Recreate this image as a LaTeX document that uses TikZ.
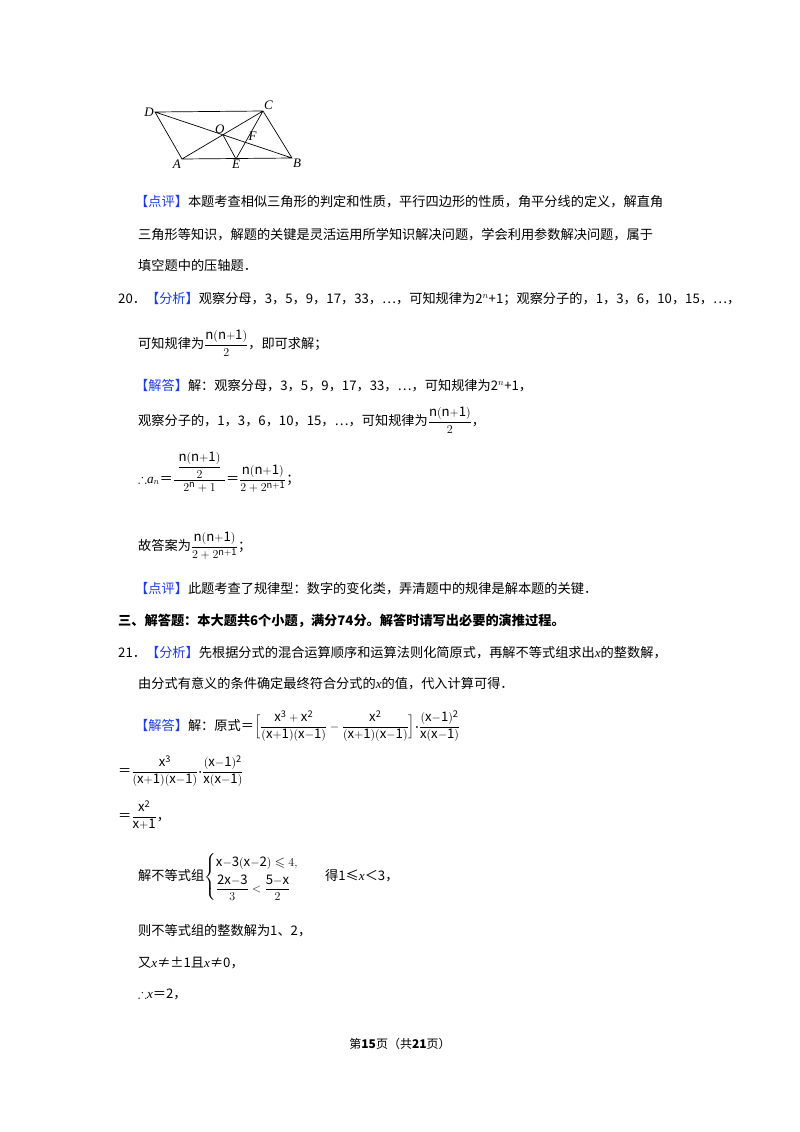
\documentclass[tikz,border=0pt]{standalone}
\usepackage{fontspec}
\usepackage{amsmath,amssymb}
\usetikzlibrary{calc}
\setmainfont{Noto Sans CJK SC}
\newfontfamily\tnr{Liberation Serif}
\definecolor{tagblue}{RGB}{30,60,230}
\newcommand{\tg}[1]{\textcolor{tagblue}{【#1】}}
\newcommand{\mx}{\textit{\tnr x}}
\begin{document}
\begin{tikzpicture}[x=1pt,y=-1pt,
  line/.style={anchor=base west,inner sep=0pt,font=\fontsize{13.2}{16}\selectfont},
  lbl/.style={font=\tnr\itshape\fontsize{13}{14}\selectfont,inner sep=1pt},
  seg/.style={line width=0.7pt}]
\useasboundingbox (0,0) rectangle (800,1132);
\fill[white] (0,0) rectangle (800,1132);
% figure
\coordinate (D) at (155,112); \coordinate (C) at (263,111);
\coordinate (A) at (182,159); \coordinate (B) at (292,158);
\coordinate (E) at (236,159);
\draw[seg] (D)--(C)--(B)--(A)--cycle (D)--(B) (A)--(C) (C)--(E);
\coordinate (O) at (intersection cs:first line={(A)--(C)},second line={(D)--(B)});
\coordinate (F) at (intersection cs:first line={(C)--(E)},second line={(D)--(B)});
\draw[seg] (O)--(E);
\node[lbl,anchor=east] (lD) at (D) {D};
\node[lbl,anchor=south west] (lC) at (C) {C};
\node[lbl,anchor=north east] (lA) at (A) {A};
\node[lbl,anchor=north west] (lB) at (B) {B};
\node[lbl,anchor=north] (lE) at (E) {E};
\node[lbl,anchor=south] (lO) at ($(O)+(-3,0)$) {O};
\node[lbl,anchor=south west] (lF) at ($(F)+(2,-1)$) {F};
% text
\node[line] (t1) at (135,206) {\tg{点评}本题考查相似三角形的判定和性质，平行四边形的性质，角平分线的定义，解直角};
\node[line] (t2) at (138,239) {三角形等知识，解题的关键是灵活运用所学知识解决问题，学会利用参数解决问题，属于};
\node[line] (t3) at (138,270) {填空题中的压轴题．};
\node[line] (t4) at (118,303) {20．\tg{分析}观察分母，3，5，9，17，33，…，可知规律为2$^{n}$+1；观察分子的，1，3，6，10，15，…，};
\node[line] (t5) at (138,348) {可知规律为$\dfrac{\mathrm{n(n{+}1)}}{2}$，即可求解；};
\node[line] (t6) at (135,390) {\tg{解答}解：观察分母，3，5，9，17，33，…，可知规律为2$^{n}$+1，};
\node[line] (t7) at (138,425) {观察分子的，1，3，6，10，15，…，可知规律为$\dfrac{\mathrm{n(n{+}1)}}{2}$，};
\node[line] (t8) at (138,483) {$\therefore$\textit{\tnr a}$_n$＝$\dfrac{\;\dfrac{\mathrm{n(n{+}1)}}{2}\;}{2^{\mathrm{n}}+1}$＝$\dfrac{\mathrm{n(n{+}1)}}{2+2^{\mathrm{n+1}}}$；};
\node[line] (t9) at (138,550) {故答案为$\dfrac{\mathrm{n(n{+}1)}}{2+2^{\mathrm{n+1}}}$；};
\node[line] (t10) at (135,593) {\tg{点评}此题考查了规律型：数字的变化类，弄清题中的规律是解本题的关键．};
\node[line,font=\bfseries\fontsize{13.2}{16}\selectfont] (t11) at (118,625) {三、解答题：本大题共6个小题，满分74分。解答时请写出必要的演推过程。};
\node[line] (t12) at (118,657) {21．\tg{分析}先根据分式的混合运算顺序和运算法则化简原式，再解不等式组求出\mx 的整数解，};
\node[line] (t13) at (138,688) {由分式有意义的条件确定最终符合分式的\mx 的值，代入计算可得．};
\node[line] (t14) at (135,730) {\tg{解答}解：原式＝$\Big[\dfrac{\mathrm{x^3+x^2}}{\mathrm{(x{+}1)(x{-}1)}}-\dfrac{\mathrm{x^2}}{\mathrm{(x{+}1)(x{-}1)}}\Big]{\boldsymbol\cdot}\dfrac{\mathrm{(x{-}1)^2}}{\mathrm{x(x{-}1)}}$};
\node[line] (t15) at (118,775) {＝$\dfrac{\mathrm{x^3}}{\mathrm{(x{+}1)(x{-}1)}}{\boldsymbol\cdot}\dfrac{\mathrm{(x{-}1)^2}}{\mathrm{x(x{-}1)}}$};
\node[line] (t16) at (118,820) {＝$\dfrac{\mathrm{x^2}}{\mathrm{x{+}1}}$，};
\node[line] (t17) at (138,880) {解不等式组$\begin{cases}\mathrm{x{-}3(x{-}2)}\leqslant 4,\\[2pt] \dfrac{\mathrm{2x{-}3}}{3}<\dfrac{\mathrm{5{-}x}}{2}\end{cases}$\quad 得1≤\mx＜3，};
\node[line] (t18) at (138,935) {则不等式组的整数解为1、2，};
\node[line] (t19) at (138,967) {又\mx≠±1且\mx≠0，};
\node[line] (t20) at (138,998) {$\therefore$\mx＝2，};
\node[anchor=base,inner sep=0pt,font=\fontsize{12}{14}\selectfont] (ft) at (400,1048) {第\textbf{15}页（共\textbf{21}页）};
\end{tikzpicture}
\end{document}
